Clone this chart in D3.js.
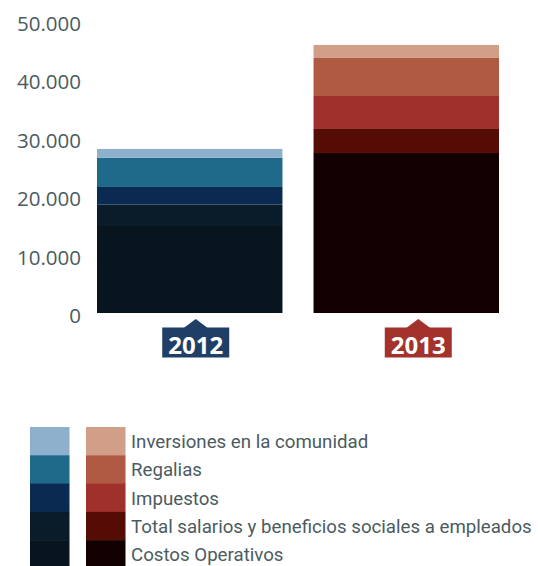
<!DOCTYPE html>
<html>
<head>
<meta charset="utf-8">
<script src="https://cdn.jsdelivr.net/npm/d3@7"></script>
<style>
  body { margin: 0; background: #fff; }
  text { font-family: "Open Sans", "DejaVu Sans", sans-serif; }
</style>
</head>
<body>
<div id="chart"></div>
<script>
// data (stack order bottom -> top)
var years = ["2012", "2013"];
var categories = ["Costos Operativos", "Total salarios y beneficios sociales a empleados",
                  "Impuestos", "Regalias", "Inversiones en la comunidad"];
var values2012 = [14900, 3650, 3030, 5020, 1490];
var values2013 = [27400, 4110, 5650, 6510, 2230];
var yTicks = [0, 10000, 20000, 30000, 40000, 50000];
var tickLabels = ["0", "10.000", "20.000", "30.000", "40.000", "50.000"];

var colors2012 = ["#08141e", "#0a1b29", "#0b2a52", "#1f6a8a", "#8fb0cc"];
var colors2013 = ["#120000", "#540c04", "#a0302c", "#b05a43", "#d19e88"];
var labelColors = ["#1f3f66", "#a3312c"];

var width = 538, height = 566;

var svg = d3.select("#chart").append("svg")
    .attr("width", width)
    .attr("height", height);

// scales
var x = d3.scaleBand().domain(years).range([97, 499]).paddingInner(0.1435);
var y = d3.scaleLinear().domain([0, 50000]).range([313, 21]);

// build rows for the stack
var rows = years.map(function(yr, i) {
    var vals = i === 0 ? values2012 : values2013;
    var r = {year: yr};
    categories.forEach(function(c, j) { r[c] = vals[j]; });
    return r;
});
var stack = d3.stack().keys(categories)(rows);

// y axis (labels only)
var yAxis = d3.axisLeft(y).tickValues(yTicks)
    .tickFormat(function(d, i) { return tickLabels[i]; })
    .tickSize(0).tickPadding(0);
var gy = svg.append("g")
    .attr("transform", "translate(81,3)")
    .call(yAxis);
gy.select(".domain").remove();
gy.selectAll("text")
    .attr("fill", "#4b5b5f")
    .style("font-size", "20.5px")
    .style("font-family", "'Open Sans', sans-serif");

// bars
stack.forEach(function(layer, j) {
    svg.selectAll(null)
        .data(layer)
        .enter().append("rect")
        .attr("x", function(d) { return x(d.data.year); })
        .attr("width", x.bandwidth())
        .attr("y", function(d) { return y(d[1]); })
        .attr("height", function(d) { return y(d[0]) - y(d[1]); })
        .attr("fill", function(d) {
            return d.data.year === "2012" ? colors2012[j] : colors2013[j];
        });
});

// year tags under bars
var offsets = [6, 12];
years.forEach(function(yr, i) {
    var cx = x(yr) + x.bandwidth() / 2 + offsets[i];
    var g = svg.append("g").attr("transform", "translate(" + cx + ",0)");
    g.append("path")
        .attr("d", "M-12,328 L0,319 L12,328 Z")
        .attr("fill", labelColors[i]);
    g.append("rect")
        .attr("x", -33.5).attr("y", 327.5)
        .attr("width", 67).attr("height", 30)
        .attr("fill", labelColors[i]);
    g.append("text")
        .attr("x", 0).attr("y", 354)
        .attr("text-anchor", "middle")
        .attr("fill", "#fff")
        .style("font-size", "24px")
        .style("font-weight", "bold")
        .text(yr);
});

// legend (top row = last category)
var legendOrder = categories.slice().reverse();
var ly = d3.scaleBand().domain(legendOrder).range([427, 568.5]);
var legend = svg.append("g");
var legendTexts = [];
legendOrder.forEach(function(c) {
    var j = categories.indexOf(c);
    legend.append("rect")
        .attr("x", 30).attr("y", ly(c))
        .attr("width", 39.5).attr("height", ly.bandwidth() + 0.5)
        .attr("fill", colors2012[j]);
    legend.append("rect")
        .attr("x", 86).attr("y", ly(c))
        .attr("width", 39.5).attr("height", ly.bandwidth() + 0.5)
        .attr("fill", colors2013[j]);
    legendTexts.push(legend.append("text")
        .attr("x", 131)
        .attr("y", ly(c) + ly.bandwidth() / 2 + 7)
        .attr("fill", "#4b5b5f")
        .style("font-family", "Roboto, sans-serif")
        .style("font-size", "19px")
        .text(c));
});
// fit longest legend entry to the width it has in the original (~401px)
var longest = d3.max(legendTexts, function(t) { return t.node().getComputedTextLength(); });
var fs = Math.min(21, 19 * 401 / longest);
legendTexts.forEach(function(t) { t.style("font-size", fs + "px"); });
</script>
</body>
</html>
